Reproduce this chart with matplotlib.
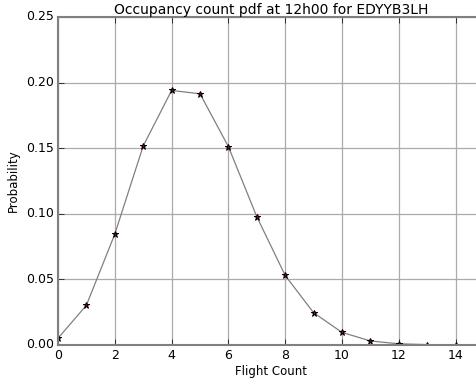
import matplotlib
matplotlib.use('Agg')
import matplotlib.pyplot as plt
import numpy as np

plt.style.use('classic')

counts = [0, 1, 2, 3, 4, 5, 6, 7, 8, 9, 10, 11, 12, 13, 14]
probs = [0.0051, 0.0303, 0.0845, 0.1517, 0.1940, 0.1915, 0.1512, 0.0978,
         0.0530, 0.0246, 0.0096, 0.0031, 0.0009, 0.0003, 0.0001]

fig = plt.figure(figsize=(4.76, 3.84), dpi=100)
ax = fig.add_axes([58/476, 39/384, 426/476, 328/384])
ax.plot(counts, probs, '-', color='gray', linewidth=0.9)
ax.plot(counts, probs, '*', markerfacecolor='darkred', markeredgecolor='black',
        markersize=5, markeredgewidth=0.7)
ax.set_xlim(0, 15)
ax.set_ylim(0, 0.25)
ax.set_xticks(np.arange(0, 16, 2))
ax.set_yticks(np.arange(0, 0.26, 0.05))
ax.yaxis.set_major_formatter(matplotlib.ticker.FormatStrFormatter('%.2f'))
ax.tick_params(labelsize=9, pad=3)
ax.grid(True, color='#aaaaaa', linestyle='-', linewidth=0.9)
ax.set_axisbelow(True)
for s in ax.spines.values():
    s.set_color('gray')
    s.set_linewidth(1.5)
ax.set_xlabel('Flight Count', fontsize=8.5, labelpad=2)
ax.set_ylabel('Probability', fontsize=8.5, labelpad=4)
ax.set_title('Occupancy count pdf at 12h00 for EDYYB3LH', fontsize=10, pad=2)
fig.savefig('out.png', dpi=100)
